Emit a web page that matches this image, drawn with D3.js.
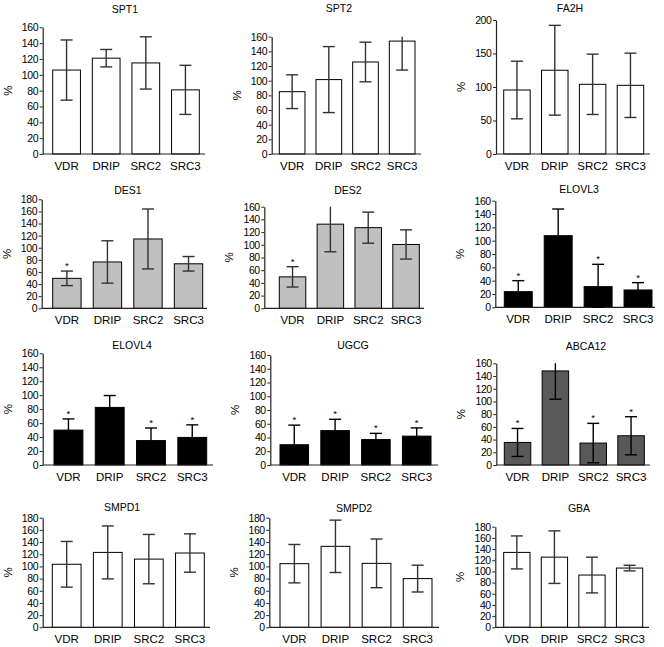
<!DOCTYPE html>
<html>
<head>
<meta charset="utf-8">
<script src="https://cdn.jsdelivr.net/npm/d3@7"></script>
<style>
  html, body { margin: 0; padding: 0; background: #fff; }
  svg { display: block; }
  text { font-family: "Liberation Sans", Arial, sans-serif; fill: #000; }
</style>
</head>
<body>
<svg id="chart" width="664" height="647"></svg>
<script>
// ---------- data ----------
const groups = ["VDR", "DRIP", "SRC2", "SRC3"];
const genes = ["SPT1", "SPT2", "FA2H", "DES1", "DES2", "ELOVL3",
               "ELOVL4", "UGCG", "ABCA12", "SMPD1", "SMPD2", "GBA"];
const meanValues = [
  [106, 121, 115, 81],
  [85, 101.5, 125.5, 154],
  [95.5, 125, 104, 102.5],
  [49.5, 76.5, 114.5, 73.5],
  [49.5, 132.5, 127, 100.5],
  [23.5, 107.5, 31, 26],
  [50, 82.5, 35, 39.5],
  [29.5, 50, 37, 42],
  [35.5, 148, 34.5, 46],
  [103.5, 123, 112, 122],
  [104.5, 133, 105, 80],
  [134, 125.5, 93.5, 106]
];
const errorValues = [
  [38, 11, 33, 31],
  [23, 45, 27, 39.5],
  [43, 67, 45, 48],
  [12, 35, 49.5, 12],
  [16, 43.5, 24.5, 23],
  [16.5, 40, 33.5, 11],
  [16, 17, 18, 18],
  [28.5, 16.5, 9, 12],
  [22, 44.5, 31, 30],
  [37.5, 43.5, 40.5, 31.5],
  [31.5, 43, 40, 22],
  [29.5, 47, 32, 5]
];
const significant = [
  [0, 0, 0, 0], [0, 0, 0, 0], [0, 0, 0, 0],
  [1, 0, 0, 0], [1, 0, 0, 0], [1, 0, 1, 1],
  [1, 0, 1, 1], [1, 1, 1, 1], [1, 0, 1, 1],
  [0, 0, 0, 0], [0, 0, 0, 0], [0, 0, 0, 0]
];
const yMaxValues = [160, 160, 200, 180, 160, 160, 160, 160, 160, 180, 180, 180];
const yTickSteps = [20, 20, 50, 20, 20, 20, 20, 20, 20, 20, 20, 20];
const yLabel = "%";

// ---------- style / layout ----------
const fills = {
  SPT1: "#fff", SPT2: "#fff", FA2H: "#fff",
  DES1: "#c0c0c0", DES2: "#c0c0c0",
  ELOVL3: "#000", ELOVL4: "#000", UGCG: "#000",
  ABCA12: "#595959",
  SMPD1: "#fff", SMPD2: "#fff", GBA: "#fff"
};
// [axisX, yTopPx, yBottomPx, xAxisEnd, barsStart, barsEnd, titleX, titleY]
const layout = [
  [42.7, 27.3, 154, 205, 52.7, 199.3, 125, 12.5],
  [271.7, 36.7, 154, 421, 279.3, 415, 339, 12],
  [496, 20, 154, 650, 503.7, 643.7, 570, 12],
  [41.7, 199.3, 308.3, 207, 52.7, 202.7, 128, 194],
  [264.3, 206.7, 308.3, 424, 279.3, 419.3, 348, 194],
  [495.3, 200.7, 307.3, 655, 504.3, 652, 579, 193],
  [42.7, 353.3, 465, 213, 54, 206.7, 132, 348.5],
  [270.3, 355, 465, 438, 280, 431, 353, 349],
  [496.3, 363.3, 465, 650, 504.3, 644.3, 586, 350],
  [42.7, 517.7, 627.3, 210, 52.3, 204.3, 122, 511],
  [269.3, 517.7, 627.3, 439, 280, 432, 354, 512],
  [495.3, 526.7, 627.3, 649, 503.7, 642.7, 579, 512]
];

const svg = d3.select("#chart");

genes.forEach((gene, gi) => {
  const [ax, yTop, yBot, xEnd, b0, b1, tx, ty] = layout[gi];
  const yMax = yMaxValues[gi];
  const y = d3.scaleLinear().domain([0, yMax]).range([yBot, yTop]);
  const x = d3.scaleBand().domain(groups).range([b0, b1])
    .paddingInner(0.3).paddingOuter(0);
  const g = svg.append("g");
  const dark = fills[gene] === "#000" || fills[gene] === "#595959";
  const errColor = dark ? "#000" : "#333";

  // title
  g.append("text").attr("x", tx).attr("y", ty)
    .attr("text-anchor", "middle").attr("font-size", 10.5).text(gene);

  // y axis
  const ticks = d3.range(0, yMax + 0.001, yTickSteps[gi]);
  const yAxis = d3.axisLeft(y).tickValues(ticks).tickSize(3).tickPadding(1.5)
    .tickSizeOuter(0).tickFormat(d3.format("d"));
  const ya = g.append("g").attr("transform", `translate(${ax},0)`).call(yAxis);
  ya.select(".domain").attr("stroke", "#222").attr("stroke-width", 1.2);
  ya.selectAll(".tick line").attr("stroke", "#222").attr("stroke-width", 1);
  ya.selectAll(".tick text").attr("font-size", 10.5)
    .attr("font-family", "Liberation Sans, Arial, sans-serif")
    .attr("letter-spacing", -0.4).attr("fill", "#000");

  // y label
  g.append("text")
    .attr("transform", `translate(${ax - 31},${(yTop + yBot) / 2}) rotate(-90)`)
    .attr("text-anchor", "middle").attr("font-size", 11.5).text(yLabel);

  // bars
  const rows = groups.map((grp, i) => ({
    grp, m: meanValues[gi][i], e: errorValues[gi][i], s: significant[gi][i]
  }));
  g.selectAll("rect.bar").data(rows).join("rect")
    .attr("class", "bar")
    .attr("x", d => x(d.grp)).attr("width", x.bandwidth())
    .attr("y", d => y(d.m)).attr("height", d => y(0) - y(d.m))
    .attr("fill", fills[gene]).attr("stroke", "#000").attr("stroke-width", 1);

  // x axis line
  g.append("line").attr("x1", ax).attr("x2", xEnd)
    .attr("y1", yBot).attr("y2", yBot)
    .attr("stroke", "#222").attr("stroke-width", 1.2);

  // error bars
  const capW = 6;
  rows.forEach(d => {
    const cx = x(d.grp) + x.bandwidth() / 2;
    const hi = Math.min(d.m + d.e, yMax);
    const lo = Math.max(d.m - d.e, 0);
    g.append("line").attr("x1", cx).attr("x2", cx)
      .attr("y1", y(lo)).attr("y2", y(hi))
      .attr("stroke", errColor).attr("stroke-width", 1.4);
    if (d.m + d.e <= yMax) {
      g.append("line").attr("x1", cx - capW).attr("x2", cx + capW)
        .attr("y1", y(hi)).attr("y2", y(hi))
        .attr("stroke", errColor).attr("stroke-width", 1.4);
    }
    g.append("line").attr("x1", cx - capW).attr("x2", cx + capW)
      .attr("y1", y(lo)).attr("y2", y(lo))
      .attr("stroke", errColor).attr("stroke-width", 1.4);
    if (d.s) {
      g.append("text").attr("x", cx).attr("y", y(hi) - 2)
        .attr("text-anchor", "middle").attr("font-size", 9.5).text("*");
    }
  });

  // x labels
  g.selectAll("text.xl").data(groups).join("text")
    .attr("class", "xl")
    .attr("x", d => x(d) + x.bandwidth() / 2)
    .attr("y", yBot + 15.5)
    .attr("text-anchor", "middle").attr("font-size", 11.5).text(d => d);
});
</script>
</body>
</html>
